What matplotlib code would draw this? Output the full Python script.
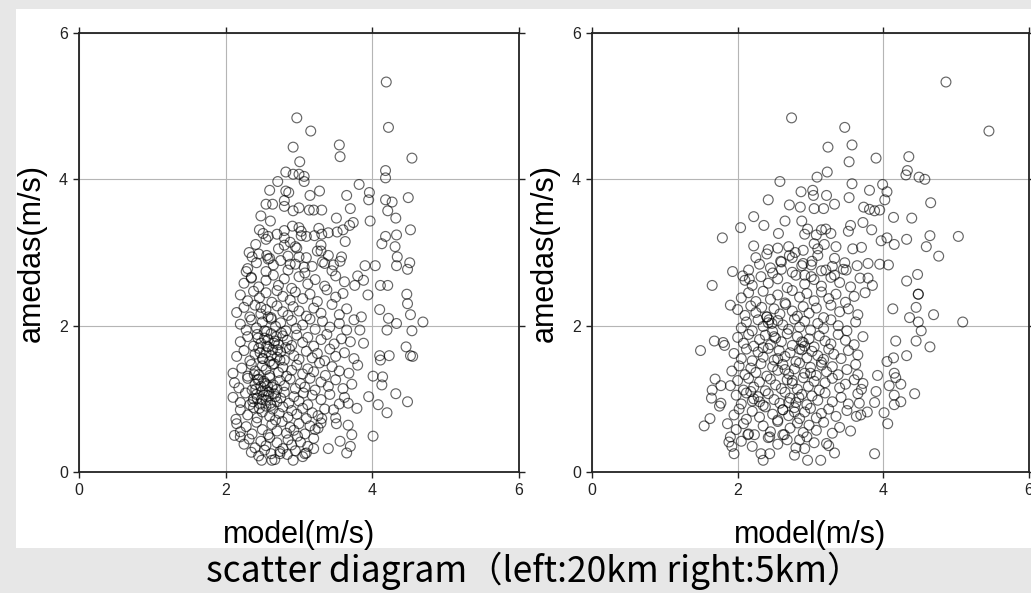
import matplotlib
matplotlib.use("Agg")
import matplotlib.pyplot as plt
from matplotlib.patches import Rectangle

# ---------------------------------------------------------------------------
# data  -- model wind speed vs amedas wind speed (m/s)
# ---------------------------------------------------------------------------
# left panel (20km): scattered outer points
left_outer = [
    (4.19,5.33),(2.97,4.84),(3.16,4.66),(4.22,4.71),(2.92,4.44),(3.55,4.47),(3.56,4.31),
    (4.54,4.29),(3.01,4.24),(2.82,4.10),(2.92,4.07),(3.00,4.07),(3.07,4.04),(3.07,3.97),
    (2.71,3.97),(4.18,4.12),(4.18,4.02),(3.82,3.93),(2.60,3.85),(2.82,3.84),(2.86,3.82),
    (3.28,3.84),(3.15,3.78),(3.65,3.78),(3.96,3.82),(3.95,3.72),(4.18,3.72),(4.27,3.69),
    (4.49,3.75),(2.80,3.71),(2.80,3.63),(2.55,3.66),(2.64,3.66),(2.92,3.57),(3.00,3.61),
    (3.14,3.58),(3.20,3.58),(3.31,3.58),(3.70,3.60),(4.21,3.57),(4.32,3.47),(2.48,3.50),
    (2.61,3.43),(3.51,3.47),(3.97,3.43),(3.74,3.41),(3.69,3.37),(3.60,3.31),(2.91,3.36),
    (3.00,3.34),(3.03,3.29),(3.27,3.33),(3.31,3.25),(2.46,3.31),(2.51,3.26),(2.58,3.22),
    (2.80,3.30),(2.80,3.20),(2.80,3.10),(3.03,3.23),(3.21,3.23),(3.40,3.27),(3.52,3.28),
    (4.52,3.31),(4.18,3.22),(4.33,3.24),(3.63,3.15),(2.41,3.11),(3.30,3.10),(3.30,3.02),
    (2.97,3.06),(3.00,2.94),(4.13,3.12),(4.31,3.08),(4.34,2.94),(2.32,3.00),(2.36,2.94),
    (2.56,2.96),(2.58,2.91),(3.58,2.94),(3.56,2.88),(3.47,2.83),(2.88,2.84),(3.07,2.80),
    (3.35,2.85),(3.90,2.82),(4.04,2.82),(4.33,2.82),(4.51,2.86),(4.48,2.77),(2.28,2.74),
    (2.35,2.65),(3.80,2.68),(3.88,2.62),(3.76,2.55),(4.11,2.55),(4.21,2.55),(4.47,2.43),
    (3.94,2.42),(4.48,2.30),(4.52,2.15),(4.69,2.05),(4.54,1.93),(4.46,1.71),(4.52,1.59),
    (4.55,1.58),(4.48,0.96),(4.32,1.07),(4.20,0.81),(4.08,0.92),(3.95,1.03),(4.01,0.49),
    (4.14,1.30),(4.01,1.31),(4.13,1.19),(4.10,1.59),(4.23,1.59),(4.11,1.53),(4.20,1.94),
    (4.10,2.22),(4.22,2.10),(4.33,2.03),(3.85,2.12),(3.83,1.94),(3.88,1.76),(3.67,0.64),
    (3.72,0.51),(3.65,0.26),(3.70,0.35),(3.56,0.42),(3.40,0.32),(3.51,0.66),(3.79,0.87),
    (3.67,0.94),(3.47,0.85),(3.08,0.25),(3.20,0.32),(2.92,0.16),(2.49,0.16),(2.63,0.16),
    (2.74,0.25),(3.26,0.60),(3.31,0.73),
]

# left panel: dense core, one line per band of amedas speed
left_core_x = [
    2.35, 2.45, 2.53, 2.62, 2.67, 2.74, 2.84, 2.95, 3.05, 3.10,
    2.20, 2.25, 2.32, 2.40, 2.48, 2.55, 2.60, 2.70, 2.78, 2.85, 2.90, 2.98, 3.02, 3.12, 3.20,
    2.12, 2.15, 2.20, 2.28, 2.36, 2.42, 2.50, 2.58, 2.63, 2.70, 2.77, 2.83, 2.88, 2.93, 3.00, 3.08, 3.15, 3.22, 3.30,
    2.14, 2.20, 2.30, 2.38, 2.43, 2.50, 2.55, 2.60, 2.64, 2.68, 2.73, 2.78, 2.85, 2.90, 2.97, 3.05, 3.10, 3.18, 3.26, 3.35, 3.50,
    2.10, 2.20, 2.27, 2.33, 2.38, 2.42, 2.47, 2.50, 2.55, 2.58, 2.62, 2.66, 2.70, 2.75, 2.80, 2.86, 2.93, 3.00, 3.06, 3.12, 3.18, 3.30, 3.42, 3.55, 3.62,
    2.12, 2.18, 2.30, 2.36, 2.40, 2.44, 2.48, 2.52, 2.56, 2.60, 2.65, 2.70, 2.74, 2.80, 2.88, 2.95, 3.02, 3.08, 3.15, 3.22, 3.30, 3.40, 3.50, 3.60, 3.72,
    2.10, 2.22, 2.30, 2.35, 2.40, 2.45, 2.50, 2.55, 2.60, 2.66, 2.72, 2.78, 2.83, 2.90, 2.97, 3.05, 3.12, 3.20, 3.28, 3.36, 3.45, 3.55, 3.68, 3.80,
    2.15, 2.25, 2.33, 2.40, 2.45, 2.50, 2.55, 2.60, 2.64, 2.70, 2.75, 2.80, 2.87, 2.93, 3.00, 3.10, 3.18, 3.25, 3.35, 3.42, 3.50, 3.62, 3.75,
    2.20, 2.30, 2.38, 2.43, 2.48, 2.53, 2.58, 2.62, 2.67, 2.72, 2.78, 2.84, 2.90, 2.97, 3.05, 3.12, 3.20, 3.30, 3.38, 3.48, 3.58, 3.70,
    2.20, 2.28, 2.35, 2.42, 2.50, 2.56, 2.62, 2.68, 2.75, 2.82, 2.90, 2.96, 3.05, 3.15, 3.22, 3.32, 3.42, 3.55, 3.65, 3.75,
    2.15, 2.25, 2.33, 2.40, 2.48, 2.55, 2.62, 2.70, 2.78, 2.85, 2.92, 3.00, 3.10, 3.20, 3.30, 3.45, 3.55, 3.65,
    2.20, 2.30, 2.38, 2.46, 2.55, 2.63, 2.70, 2.78, 2.88, 2.95, 3.05, 3.15, 3.25, 3.38, 3.50, 3.60,
    2.25, 2.35, 2.45, 2.55, 2.65, 2.72, 2.80, 2.90, 3.00, 3.12, 3.22, 3.35, 3.50, 3.62,
    2.30, 2.42, 2.55, 2.65, 2.75, 2.85, 2.95, 3.08, 3.18, 3.32, 3.45,
    2.45, 2.60, 2.72, 2.85, 2.95, 3.10, 3.25, 3.40,
    2.55, 2.70, 2.88, 3.10,
    2.37, 2.41, 2.46, 2.52, 2.57, 2.61, 2.45, 2.49, 2.54, 2.59,
    2.39, 2.43, 2.63, 2.68, 2.51, 2.56, 2.47, 2.58, 2.62, 2.66,
    2.71, 2.76, 2.53, 2.64, 2.69, 2.74, 2.82, 2.58, 2.48, 2.44,
]
left_core_y = [
    0.27, 0.22, 0.30, 0.25, 0.17, 0.28, 0.24, 0.29, 0.21, 0.26,
    0.48, 0.38, 0.45, 0.33, 0.42, 0.36, 0.47, 0.40, 0.32, 0.44, 0.37, 0.49, 0.41, 0.35, 0.46,
    0.50, 0.66, 0.55, 0.62, 0.52, 0.68, 0.58, 0.51, 0.65, 0.56, 0.69, 0.53, 0.61, 0.57, 0.66, 0.52, 0.63, 0.58, 0.67,
    0.72, 0.85, 0.78, 0.88, 0.74, 0.82, 0.90, 0.76, 0.86, 0.71, 0.80, 0.89, 0.75, 0.84, 0.79, 0.87, 0.73, 0.81, 0.77, 0.86, 0.74,
    1.02, 0.95, 1.08, 0.92, 1.00, 1.06, 0.93, 1.10, 0.98, 1.04, 0.91, 1.07, 0.96, 1.01, 1.09, 0.94, 1.03, 0.97, 1.08, 0.92, 1.05, 0.99, 1.06, 0.93, 1.02,
    1.22, 1.15, 1.28, 1.12, 1.20, 1.26, 1.17, 1.24, 1.11, 1.29, 1.19, 1.13, 1.25, 1.18, 1.27, 1.14, 1.21, 1.16, 1.28, 1.12, 1.23, 1.17, 1.26, 1.14, 1.20,
    1.35, 1.42, 1.31, 1.47, 1.38, 1.33, 1.45, 1.40, 1.32, 1.48, 1.36, 1.43, 1.31, 1.39, 1.46, 1.34, 1.41, 1.37, 1.49, 1.32, 1.44, 1.38, 1.35, 1.46,
    1.58, 1.66, 1.52, 1.61, 1.69, 1.55, 1.63, 1.51, 1.67, 1.57, 1.64, 1.53, 1.68, 1.59, 1.54, 1.65, 1.56, 1.62, 1.52, 1.68, 1.58, 1.63, 1.55,
    1.78, 1.85, 1.72, 1.88, 1.76, 1.83, 1.71, 1.89, 1.79, 1.74, 1.86, 1.80, 1.73, 1.87, 1.77, 1.84, 1.72, 1.81, 1.88, 1.75, 1.82, 1.78,
    2.02, 1.94, 2.08, 1.97, 2.05, 1.92, 2.09, 1.99, 2.04, 1.93, 2.07, 1.96, 2.01, 2.09, 1.95, 2.06, 1.98, 2.03, 1.94, 2.08,
    2.18, 2.25, 2.12, 2.28, 2.16, 2.22, 2.11, 2.27, 2.19, 2.14, 2.26, 2.20, 2.13, 2.24, 2.17, 2.29, 2.15, 2.23,
    2.42, 2.34, 2.47, 2.38, 2.45, 2.32, 2.48, 2.40, 2.35, 2.46, 2.37, 2.43, 2.33, 2.49, 2.39, 2.44,
    2.58, 2.66, 2.53, 2.62, 2.69, 2.55, 2.64, 2.51, 2.67, 2.57, 2.63, 2.54, 2.68, 2.60,
    2.78, 2.86, 2.74, 2.83, 2.89, 2.76, 2.84, 2.72, 2.81, 2.87, 2.75,
    2.98, 2.92, 3.05, 2.95, 3.08, 2.93, 3.02, 2.96,
    3.18, 3.25, 3.14, 3.22,
    0.96, 1.13, 0.87, 1.05, 1.18, 0.94, 1.27, 0.99, 1.21, 1.09,
    1.33, 1.01, 1.16, 1.03, 1.55, 1.72, 1.63, 1.81, 1.59, 1.76,
    1.67, 1.90, 1.93, 1.47, 1.85, 1.53, 1.70, 2.12, 2.25, 1.83,
]

# right panel (5km): scattered outer points
right_outer = [
    (4.86,5.33),(5.45,4.66),(2.74,4.84),(3.47,4.71),(3.57,4.47),(3.24,4.44),(3.90,4.29),
    (4.35,4.31),(3.53,4.24),(3.23,4.10),(3.09,4.03),(2.58,3.97),(4.33,4.12),(4.31,4.06),
    (4.49,4.03),(4.57,4.00),(3.57,3.94),(3.99,3.93),(4.05,3.83),(4.02,3.72),(3.81,3.85),
    (2.87,3.83),(3.03,3.85),(3.04,3.78),(3.22,3.78),(3.53,3.75),(2.42,3.72),(4.65,3.68),
    (2.71,3.65),(2.86,3.62),(3.05,3.60),(3.18,3.60),(3.33,3.66),(3.73,3.62),(3.81,3.59),
    (3.88,3.57),(3.95,3.58),(2.22,3.49),(2.36,3.37),(2.04,3.34),(2.65,3.43),(2.88,3.43),
    (3.72,3.41),(4.14,3.48),(4.39,3.47),(3.55,3.37),(2.96,3.32),(3.15,3.31),(3.28,3.26),
    (3.21,3.32),(2.56,3.26),(2.92,3.25),(3.08,3.24),(3.52,3.29),(3.84,3.31),(1.79,3.20),
    (4.05,3.20),(3.97,3.16),(4.15,3.11),(4.32,3.18),(4.64,3.23),(4.59,3.08),(5.03,3.22),
    (4.76,2.95),(2.22,3.09),(2.25,2.93),(2.42,3.04),(2.70,3.08),(2.71,2.96),(2.79,3.00),
    (3.05,3.12),(3.10,3.05),(3.19,3.11),(3.33,2.92),(3.58,3.05),(3.70,3.07),(3.95,2.84),
    (4.07,2.83),(4.47,2.70),(4.32,2.61),(4.48,2.43),(1.93,2.74),(1.65,2.55),(2.07,2.68),
    (2.16,2.64),(2.59,2.88),(2.60,2.77),(2.48,2.72),(2.90,2.85),(3.01,2.83),(2.92,2.69),
    (3.01,2.67),(3.47,2.86),(3.49,2.76),(3.64,2.82),(3.79,2.85),(3.21,2.76),(3.33,2.69),
    (3.79,2.65),(3.85,2.55),
    (5.09,2.05),(4.69,2.15),(4.48,2.05),(4.52,1.93),(4.64,1.71),(4.45,2.25),(4.48,2.43),
    (4.36,2.11),(4.45,1.79),(4.13,2.23),(4.17,1.79),(4.32,1.59),(4.05,1.51),(4.14,1.56),
    (4.15,1.35),(4.17,1.29),(4.24,1.20),(4.43,1.07),(3.92,1.32),(4.08,1.18),(4.15,1.05),
    (4.24,0.96),(4.15,0.92),(4.01,0.81),(4.06,0.66),(3.88,0.25),(3.55,0.56),(3.63,0.76),
    (3.69,0.78),(3.78,0.82),(3.88,0.95),(3.67,0.94),(3.65,1.33),(3.72,1.21),(3.90,1.10),
    (1.49,1.66),(1.68,1.79),(1.80,1.77),(1.82,1.73),(1.90,2.28),(1.69,1.27),(1.65,1.12),
    (1.77,1.18),(1.64,1.01),(1.77,0.94),(1.75,0.90),(1.62,0.73),(1.54,0.63),(1.86,0.66),
    (1.90,0.48),(1.88,0.41),(1.92,0.35),(1.95,0.25),(2.32,0.25),(2.35,0.16),(2.44,0.25),
    (2.96,0.16),(3.14,0.16),(3.33,0.26),(3.22,0.39),(2.78,0.23),(2.92,0.32),(2.14,0.51),
    (2.23,0.51),(2.44,0.48),(2.64,0.51),(2.85,0.44),
]

# right panel: dense core
right_core_x = [
    2.05, 2.20, 2.42, 2.55, 2.68, 2.80, 2.95, 3.05, 3.25,
    1.98, 2.08, 2.15, 2.35, 2.45, 2.55, 2.62, 2.72, 2.82, 2.90, 2.98, 3.08, 3.18, 3.30, 3.40,
    1.95, 2.02, 2.12, 2.20, 2.30, 2.38, 2.48, 2.55, 2.62, 2.70, 2.78, 2.85, 2.92, 3.00, 3.08, 3.15, 3.25, 3.35, 3.50,
    1.98, 2.05, 2.12, 2.20, 2.28, 2.35, 2.42, 2.50, 2.58, 2.65, 2.72, 2.80, 2.88, 2.95, 3.02, 3.10, 3.20, 3.30, 3.42, 3.52, 3.65,
    1.90, 2.00, 2.08, 2.15, 2.22, 2.30, 2.38, 2.45, 2.52, 2.60, 2.68, 2.75, 2.82, 2.90, 2.97, 3.05, 3.12, 3.20, 3.30, 3.40, 3.48, 3.60, 3.70,
    1.92, 2.02, 2.10, 2.18, 2.25, 2.32, 2.40, 2.48, 2.55, 2.62, 2.70, 2.78, 2.85, 2.92, 3.00, 3.08, 3.15, 3.22, 3.30, 3.38, 3.50, 3.62,
    1.95, 2.05, 2.12, 2.20, 2.28, 2.35, 2.42, 2.50, 2.57, 2.65, 2.72, 2.80, 2.88, 2.95, 3.02, 3.10, 3.18, 3.25, 3.32, 3.42, 3.52, 3.65,
    2.00, 2.08, 2.15, 2.22, 2.30, 2.38, 2.45, 2.52, 2.60, 2.68, 2.75, 2.82, 2.90, 2.98, 3.05, 3.12, 3.20, 3.28, 3.38, 3.48, 3.60, 3.72,
    2.05, 2.12, 2.20, 2.28, 2.35, 2.42, 2.48, 2.55, 2.62, 2.70, 2.78, 2.85, 2.92, 3.00, 3.10, 3.18, 3.28, 3.38, 3.50, 3.62,
    2.00, 2.10, 2.18, 2.25, 2.33, 2.40, 2.50, 2.58, 2.66, 2.75, 2.82, 2.90, 2.98, 3.08, 3.18, 3.28, 3.40, 3.52, 3.65,
    2.05, 2.15, 2.25, 2.35, 2.45, 2.55, 2.65, 2.75, 2.85, 2.95, 3.05, 3.15, 3.25, 3.35, 3.48, 3.60, 3.75,
    2.10, 2.20, 2.32, 2.42, 2.55, 2.68, 2.80, 2.92, 3.05, 3.15, 3.28, 3.40, 3.55, 3.68,
    2.15, 2.30, 2.45, 2.60, 2.75, 2.88, 3.02, 3.15, 3.30, 3.45,
    2.40, 2.55, 2.75, 2.90, 3.10, 3.35,
    2.43, 2.47, 2.40, 2.88, 2.92, 2.85, 2.62, 2.70, 2.78, 2.84,
    2.22, 2.18, 2.30, 2.55, 2.65, 2.75, 3.00, 3.15, 2.35, 2.50,
]
right_core_y = [
    0.42, 0.35, 0.47, 0.38, 0.44, 0.33, 0.48, 0.40, 0.36,
    0.58, 0.66, 0.52, 0.63, 0.55, 0.69, 0.51, 0.60, 0.67, 0.54, 0.64, 0.57, 0.68, 0.53, 0.61,
    0.78, 0.86, 0.72, 0.83, 0.75, 0.89, 0.79, 0.71, 0.85, 0.77, 0.88, 0.73, 0.82, 0.87, 0.74, 0.80, 0.86, 0.76, 0.84,
    1.05, 0.93, 1.08, 0.97, 1.03, 0.91, 1.07, 0.99, 0.94, 1.09, 1.01, 0.95, 1.06, 0.92, 1.04, 0.98, 1.08, 0.96, 1.02, 0.93, 1.07,
    1.18, 1.25, 1.12, 1.28, 1.16, 1.23, 1.11, 1.27, 1.19, 1.14, 1.26, 1.21, 1.13, 1.29, 1.17, 1.24, 1.12, 1.22, 1.28, 1.15, 1.20, 1.26, 1.13,
    1.38, 1.45, 1.33, 1.42, 1.36, 1.48, 1.31, 1.44, 1.39, 1.47, 1.34, 1.41, 1.49, 1.35, 1.43, 1.32, 1.46, 1.37, 1.44, 1.33, 1.40, 1.47,
    1.62, 1.55, 1.68, 1.52, 1.64, 1.57, 1.69, 1.53, 1.66, 1.58, 1.63, 1.51, 1.67, 1.56, 1.65, 1.59, 1.54, 1.68, 1.61, 1.55, 1.66, 1.60,
    1.84, 1.76, 1.88, 1.72, 1.81, 1.87, 1.74, 1.83, 1.78, 1.89, 1.73, 1.85, 1.77, 1.82, 1.71, 1.86, 1.79, 1.75, 1.88, 1.80, 1.74, 1.85,
    1.97, 2.05, 1.93, 2.08, 1.99, 2.04, 1.92, 2.07, 2.01, 1.95, 2.09, 1.98, 2.06, 1.94, 2.03, 1.96, 2.08, 2.00, 1.93, 2.05,
    2.22, 2.14, 2.27, 2.18, 2.25, 2.12, 2.23, 2.16, 2.29, 2.20, 2.13, 2.26, 2.17, 2.24, 2.11, 2.28, 2.19, 2.23, 2.15,
    2.38, 2.45, 2.33, 2.47, 2.36, 2.42, 2.31, 2.48, 2.39, 2.44, 2.34, 2.46, 2.37, 2.43, 2.32, 2.40, 2.45,
    2.62, 2.55, 2.67, 2.58, 2.64, 2.52, 2.69, 2.57, 2.63, 2.54, 2.66, 2.59, 2.53, 2.65,
    2.76, 2.84, 2.79, 2.87, 2.73, 2.82, 2.88, 2.75, 2.81, 2.77,
    2.98, 3.06, 2.93, 3.03, 2.96, 3.08,
    2.08, 2.03, 2.12, 1.78, 1.72, 1.68, 0.85, 0.95, 0.82, 1.02,
    1.00, 1.10, 0.96, 1.55, 1.40, 1.25, 1.35, 1.50, 1.70, 1.85,
]

ticks = [0, 2, 4, 6]
title = "scatter diagram（left:20km right:5km）"

#----------------------------------------------------------------------------------------#
# figure
#----------------------------------------------------------------------------------------#
W, H = 1031, 593
fig = plt.figure(figsize=(W/100, H/100), dpi=100)
fig.patch.set_facecolor('#e7e7e7')
fig.add_artist(Rectangle((16/W, 1-548/H), 1-16/W, (548-9)/H, transform=fig.transFigure,
                         facecolor='white', edgecolor='none', zorder=0))

ax1 = fig.add_axes([79/W, 1-472/H, 440/W, 439/H])
ax2 = fig.add_axes([592/W, 1-472/H, 437/W, 439/H])


def draw(ax, outer, cx, cy):
    xs = [p[0] for p in outer] + cx
    ys = [p[1] for p in outer] + cy
    ax.scatter(xs, ys, s=50, facecolors='none', edgecolors='black',
               linewidths=0.85, alpha=0.6, zorder=3)
    ax.set_xlim(0, 6)
    ax.set_ylim(0, 6)
    ax.set_xticks(ticks)
    ax.set_yticks(ticks)
    ax.grid(color='#b5b5b5', linewidth=0.8, zorder=1)
    ax.set_axisbelow(True)
    ax.tick_params(direction='out', length=4, width=1.0, top=True, right=True,
                   labelsize=11.5, pad=4, colors='#222222')
    for sp in ax.spines.values():
        sp.set_linewidth(1.3)
        sp.set_color('#222222')
    ax.set_xlabel('model(m/s)', fontsize=22, labelpad=16, family='Liberation Sans')
    ax.set_ylabel('amedas(m/s)', fontsize=22, labelpad=9, family='Liberation Sans')
    for lab in ax.get_xticklabels() + ax.get_yticklabels():
        lab.set_family('Liberation Sans')


draw(ax1, left_outer, left_core_x, left_core_y)
draw(ax2, right_outer, right_core_x, right_core_y)

fig.text(534/W, 1-571/H, title, ha='center', va='center', fontsize=25.5,
         family=['Noto Sans CJK JP', 'DejaVu Sans'])

plt.savefig('out.png', dpi=100, facecolor=fig.get_facecolor())
